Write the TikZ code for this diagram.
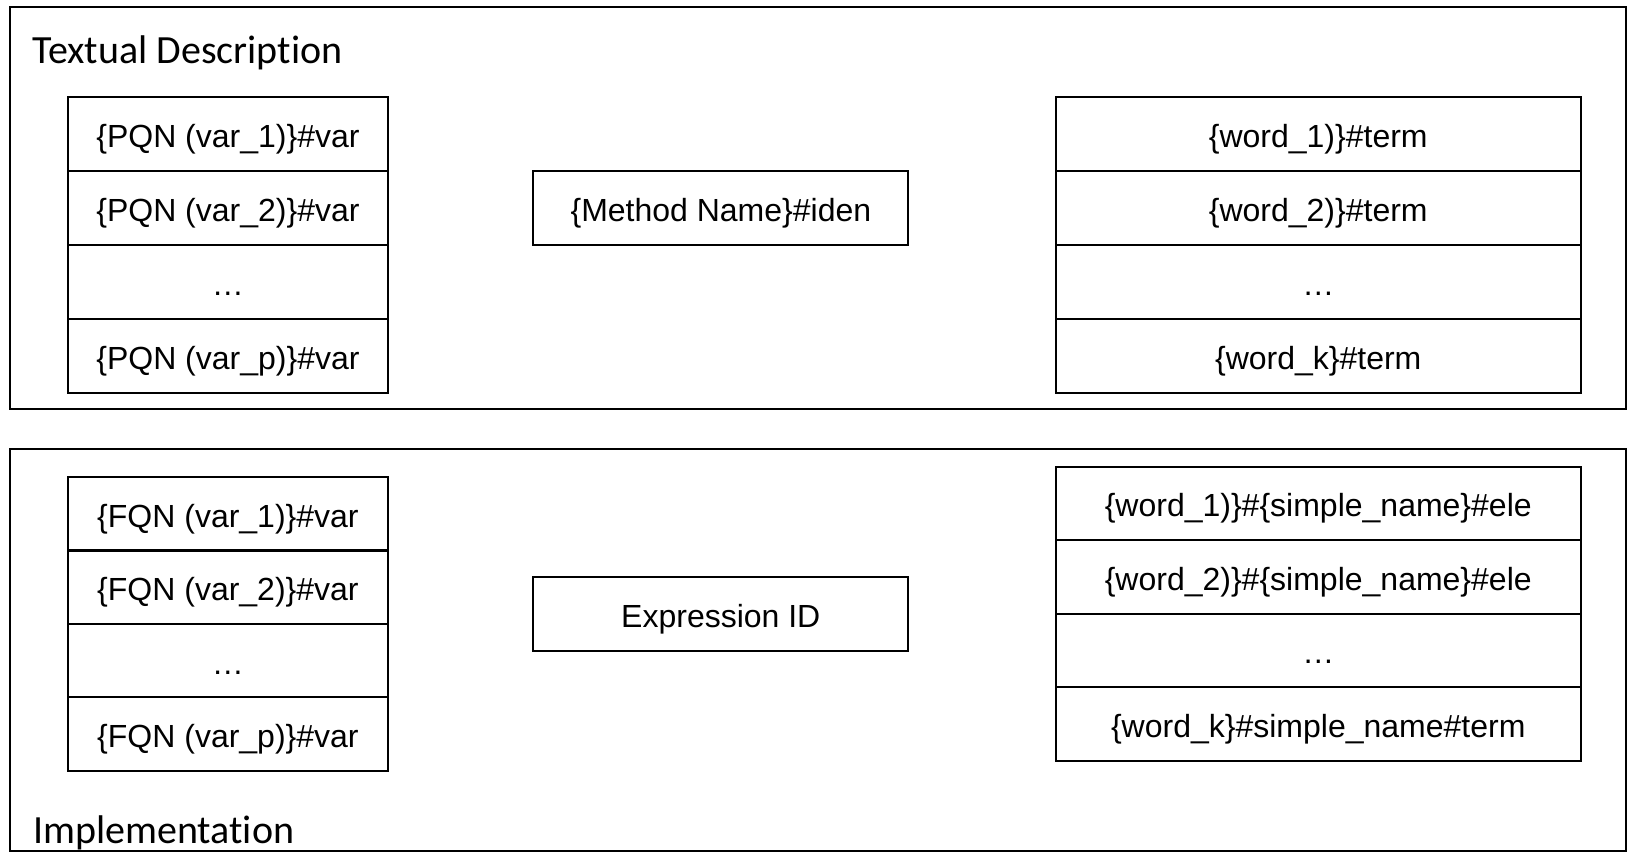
\documentclass[tikz,border=0pt]{standalone}
\usepackage{fontspec}
\setmainfont{Liberation Sans}
\newfontfamily\titlefont[Ligatures=NoCommon]{Carlito}
\usetikzlibrary{positioning}
\def\PQN#1{\{PQN (var\_#1)\}\#var}
\def\FQN#1{\{FQN (var\_#1)\}\#var}
\def\wordterm#1{\{word\_#1)\}\#term}
\def\wordele#1{\{word\_#1)\}\#\{simple\_name\}\#ele}

\begin{document}
\begin{tikzpicture}[x=1pt, y=-1pt,
                    cell/.style={
                        draw, line width=2pt,
                        minimum width=320.5pt, minimum height=74pt,
                        inner sep=0pt, outer sep=0pt,
                        text height=27pt, text depth=0pt,
                        font=\fontsize{32}{38}\selectfont
                    },
                    wide cell/.style={
                        cell, minimum width=525.5pt
                    },
                    single/.style={
                        cell, minimum width=375pt, minimum height=74.3pt
                    },
                    frame/.style={
                        draw, line width=2pt, anchor=north west,
                        minimum width=1615.5pt, minimum height=401.5pt,
                        inner sep=0pt, outer sep=0pt
                    },
                    heading/.style={
                        anchor=base west, inner sep=0pt,
                        font=\titlefont\fontsize{40}{48}\selectfont
                    }]
    \useasboundingbox (0,0) rectangle (1638,864);

    % textual description
    \node[frame] (desc) at (10,7) {};
    \node[heading] (desctitle) at (32,64) {Textual Description};

    \node[cell, anchor=north west] (pv1) at (67.7,97) {\PQN{1}};
    \node[cell, below=0pt of pv1] (pv2) {\PQN{2}};
    \node[cell, below=0pt of pv2] (pvdots) {…};
    \node[cell, below=0pt of pvdots] (pvp) {\PQN{p}};

    \node[single, anchor=north west] (iden) at (533.4,170.7) {\{Method Name\}\#iden};

    \node[wide cell, anchor=north west] (tw1) at (1055.5,97) {\wordterm{1}};
    \node[wide cell, below=0pt of tw1] (tw2) {\wordterm{2}};
    \node[wide cell, below=0pt of tw2] (twdots) {…};
    \node[wide cell, below=0pt of twdots] (twk) {\{word\_k\}\#term};

    % implementation
    \node[frame] (impl) at (10,449) {};
    \node[heading] (impltitle) at (33,843) {Implementation};

    \node[cell, minimum height=73.4pt, anchor=north west] (fv1) at (67.7,477) {\FQN{1}};
    \node[cell, minimum height=73.4pt, below=0pt of fv1] (fv2) {\FQN{2}};
    \node[cell, minimum height=73.4pt, below=0pt of fv2] (fvdots) {…};
    \node[cell, minimum height=73.4pt, below=0pt of fvdots] (fvp) {\FQN{p}};
    \draw[line width=3pt] (fv1.south west) -- (fv1.south east);

    \node[single, anchor=north west] (exprid) at (533.3,576.7) {Expression ID};

    \node[wide cell, minimum height=73.5pt, anchor=north west] (sw1) at (1055.5,466.7) {\wordele{1}};
    \node[wide cell, minimum height=73.5pt, below=0pt of sw1] (sw2) {\wordele{2}};
    \node[wide cell, minimum height=73.5pt, below=0pt of sw2] (swdots) {…};
    \node[wide cell, minimum height=73.5pt, below=0pt of swdots] (swk) {\{word\_k\}\#simple\_name\#term};
\end{tikzpicture}
\end{document}
